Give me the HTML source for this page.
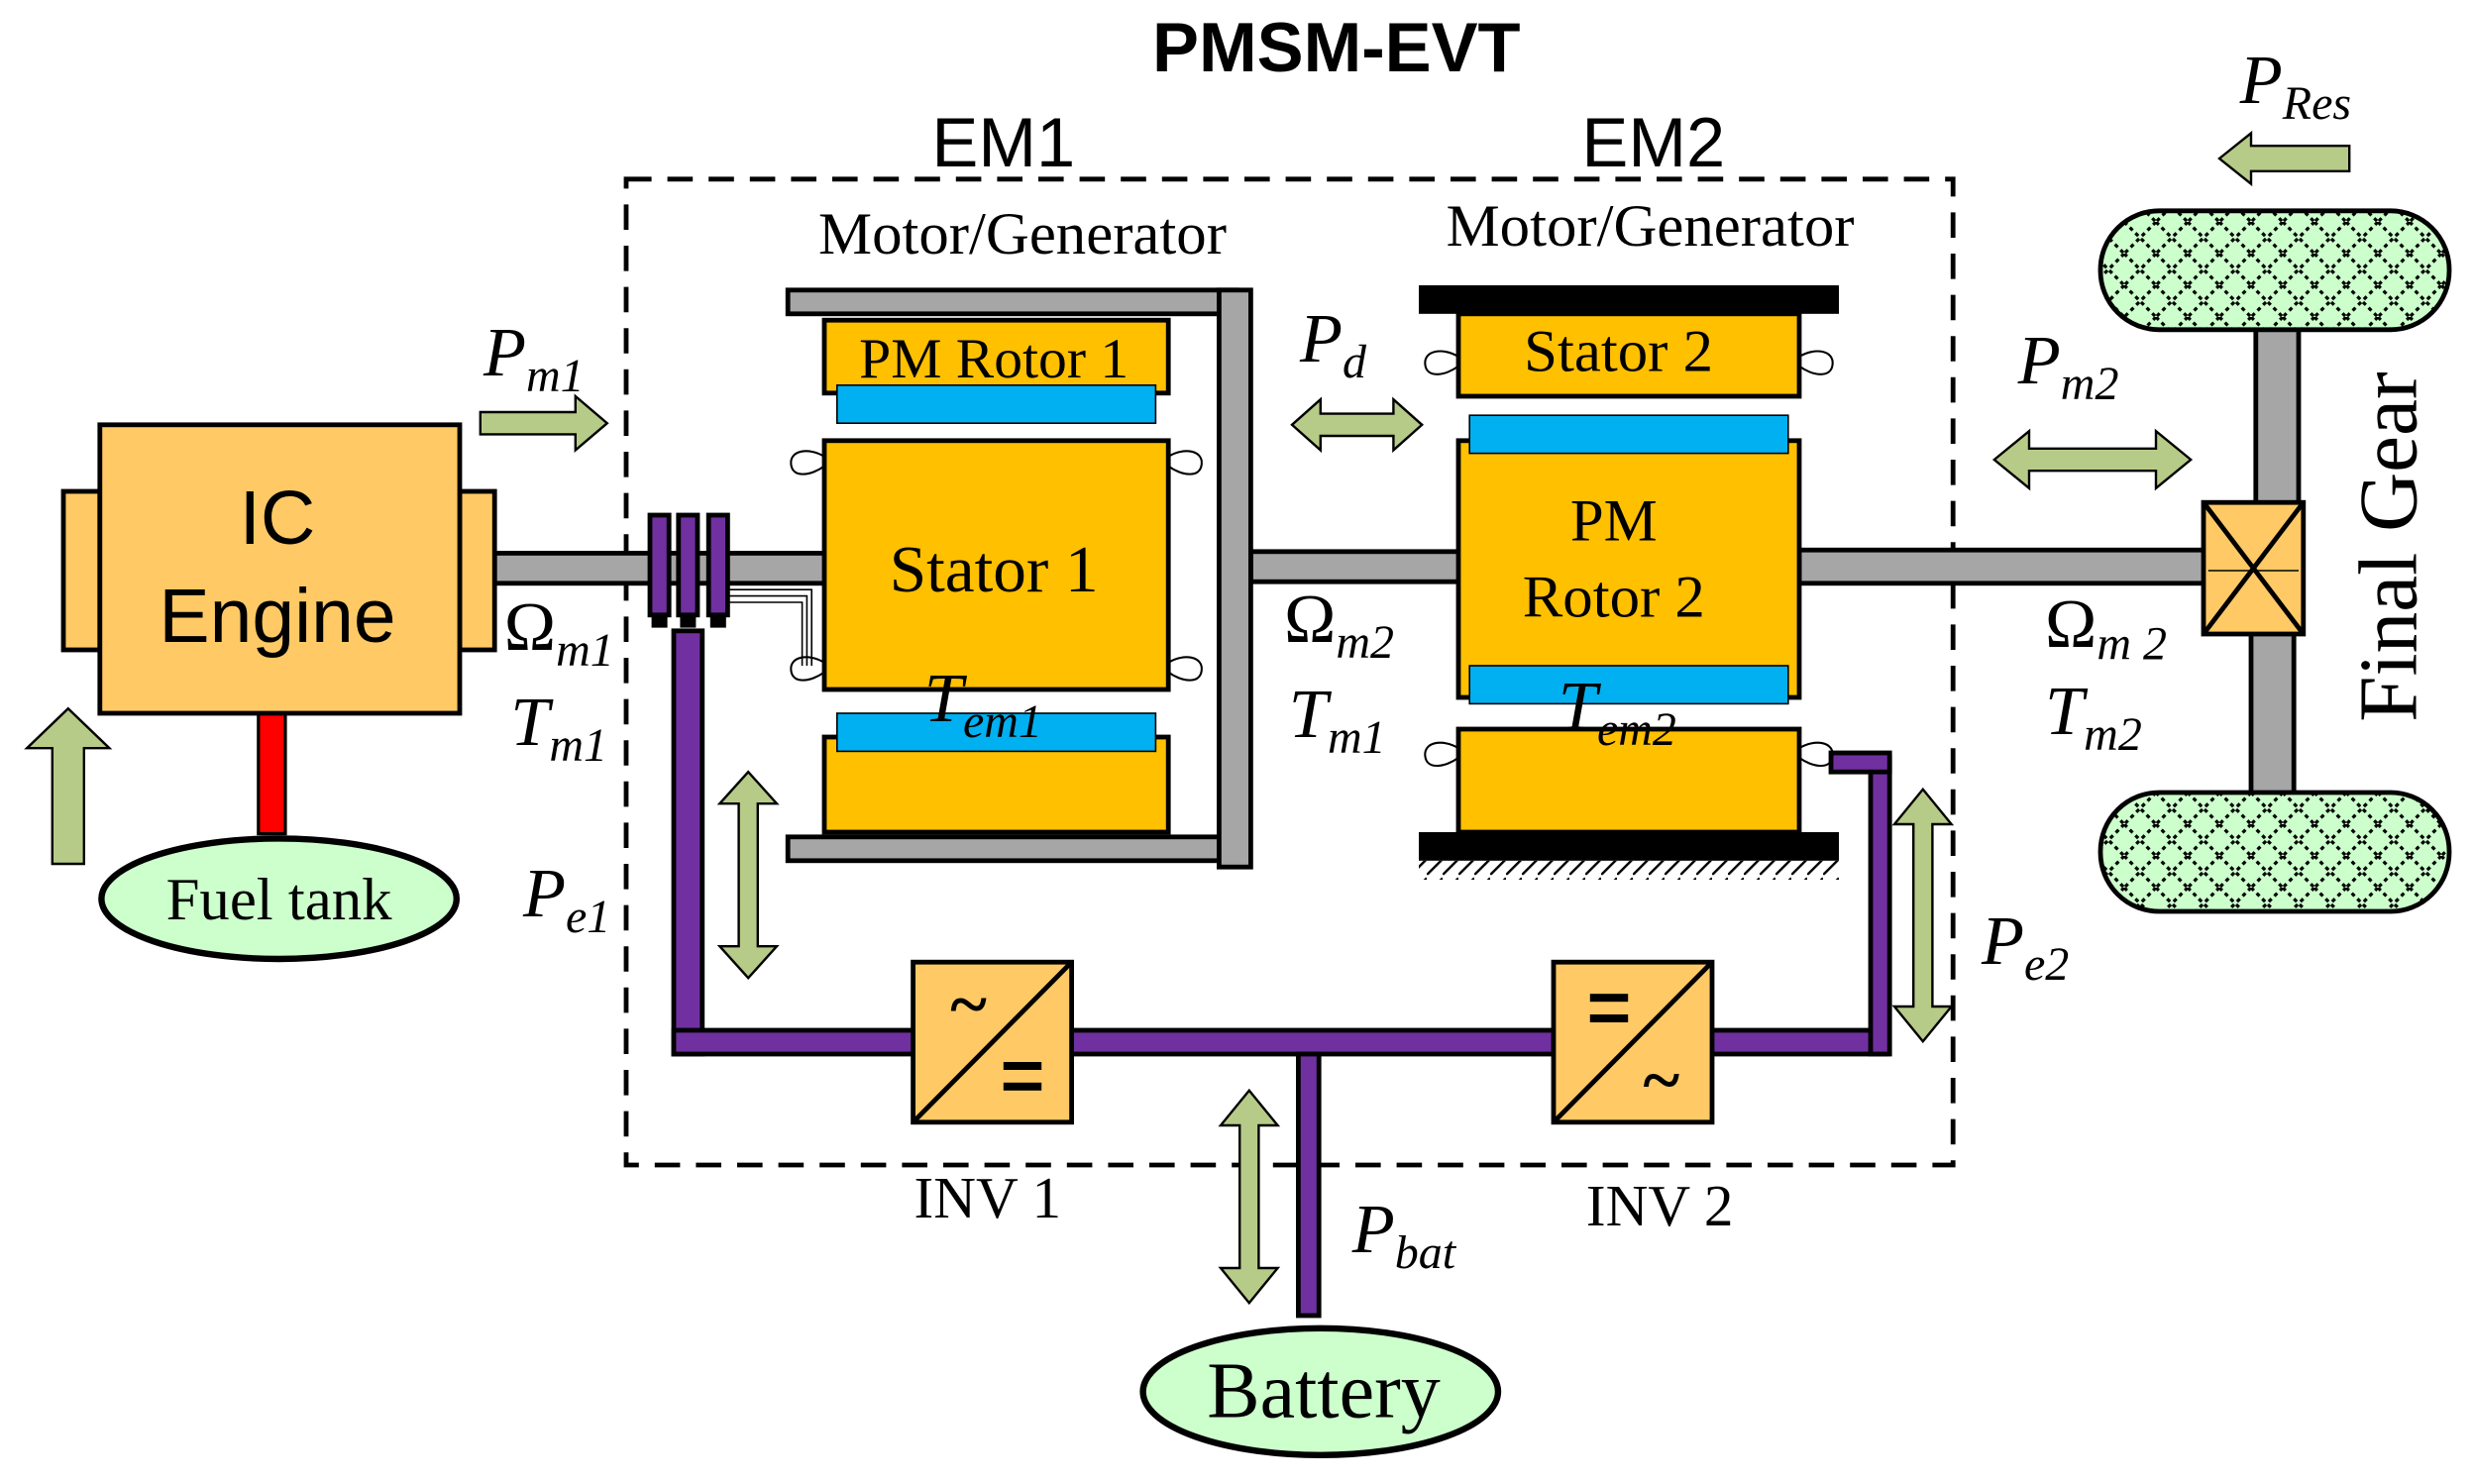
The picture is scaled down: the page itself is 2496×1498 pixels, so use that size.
<!DOCTYPE html>
<html><head><meta charset="utf-8"><style>html,body{margin:0;padding:0;background:#fff}svg{display:block}</style></head>
<body>
<svg xmlns="http://www.w3.org/2000/svg" width="2496" height="1498" viewBox="0 0 1560 936.25">
<defs>
<pattern id="hx" width="20" height="20" patternUnits="userSpaceOnUse">
<rect width="20" height="20" fill="#CCFFCC"/>
<path d="M0,0 L20,20 M20,0 L0,20" stroke="#000" stroke-width="2" stroke-dasharray="2.5,2.5"/>
</pattern>
<pattern id="hatch" width="10" height="12" patternUnits="userSpaceOnUse">
<path d="M0,12 L10,2" stroke="#000" stroke-width="1.5"/>
</pattern>
</defs>
<g font-family="Liberation Serif, serif">
<text x="843" y="45" font-family="Liberation Sans, sans-serif" font-weight="bold" font-size="44" text-anchor="middle">PMSM-EVT</text>
<text x="633" y="105" font-family="Liberation Sans, sans-serif" font-size="44" text-anchor="middle">EM1</text>
<text x="1043" y="105" font-family="Liberation Sans, sans-serif" font-size="44" text-anchor="middle">EM2</text>
<rect x="395" y="113" width="837" height="622" fill="none" stroke="#000" stroke-width="3" stroke-dasharray="16,10"/>
<text x="645" y="160" font-size="38" text-anchor="middle">Motor/Generator</text>
<text x="1041" y="155" font-size="38" text-anchor="middle">Motor/Generator</text>

<!-- shafts -->
<rect x="312" y="349" width="210" height="19" fill="#A6A6A6" stroke="#000" stroke-width="3"/>
<rect x="789" y="348" width="132" height="19" fill="#A6A6A6" stroke="#000" stroke-width="3"/>
<rect x="1135" y="347" width="256" height="21" fill="#A6A6A6" stroke="#000" stroke-width="3"/>

<!-- engine -->
<rect x="163" y="448" width="17" height="78" fill="#FF0000" stroke="#000" stroke-width="2"/>
<rect x="40" y="310" width="23" height="100" fill="#FFC966" stroke="#000" stroke-width="3"/>
<rect x="290" y="310" width="22" height="100" fill="#FFC966" stroke="#000" stroke-width="3"/>
<rect x="63" y="268" width="227" height="182" fill="#FFC966" stroke="#000" stroke-width="3"/>
<text x="175" y="343" font-family="Liberation Sans, sans-serif" font-size="48" text-anchor="middle">IC</text>
<text x="175" y="405" font-family="Liberation Sans, sans-serif" font-size="48" text-anchor="middle">Engine</text>
<ellipse cx="176" cy="567" rx="112" ry="38" fill="#CCFFCC" stroke="#000" stroke-width="4"/>
<text x="176" y="580" font-size="38" text-anchor="middle">Fuel tank</text>
<polygon points="43,447 69,472 53,472 53,545 33,545 33,472 17,472" fill="#B7CB88" stroke="#000" stroke-width="1.5"/>

<!-- purple wires -->
<g fill="#7030A0" stroke="#000" stroke-width="3">
<rect x="425" y="398" width="18" height="267"/>
<rect x="425" y="650" width="765" height="15"/>
<rect x="1180" y="478" width="12" height="187"/>
<rect x="1155" y="475" width="37" height="12"/>
<rect x="819" y="665" width="13" height="165"/>
<rect x="410" y="325" width="12" height="63"/>
<rect x="428" y="325" width="12" height="63"/>
<rect x="447" y="325" width="12" height="63"/>
</g>
<g fill="#000"><rect x="411" y="388" width="10" height="8"/><rect x="429" y="388" width="10" height="8"/><rect x="448" y="388" width="10" height="8"/></g>
<path d="M459,372 H512 V420 M459,376 H509 V420 M459,380 H506 V420" fill="none" stroke="#000" stroke-width="1"/>

<!-- EM1 -->
<g stroke="#000" stroke-width="3">
<rect x="497" y="183" width="283" height="15" fill="#A6A6A6"/>
<rect x="497" y="528" width="283" height="15" fill="#A6A6A6"/>
<rect x="769" y="183" width="20" height="364" fill="#A6A6A6"/>
<rect x="520" y="202" width="217" height="46" fill="#FFC000"/>
<rect x="520" y="278" width="217" height="157" fill="#FFC000"/>
<rect x="520" y="465" width="217" height="60" fill="#FFC000"/>
</g>
<rect x="528" y="243" width="201" height="24" fill="#00B0F0" stroke="#000" stroke-width="1"/>
<rect x="528" y="450" width="201" height="24" fill="#00B0F0" stroke="#000" stroke-width="1"/>
<g fill="none" stroke="#000" stroke-width="1.3">
<path d="M520,288 C510,282 498,284 499,293 C500,302 512,300 520,294"/>
<path d="M737,288 C747,282 759,284 758,293 C757,302 745,300 737,294"/>
<path d="M520,418 C510,412 498,414 499,423 C500,432 512,430 520,424"/>
<path d="M737,418 C747,412 759,414 758,423 C757,432 745,430 737,424"/>
<path d="M920,225 C910,219 898,221 899,230 C900,239 912,237 920,231"/>
<path d="M1135,225 C1145,219 1157,221 1156,230 C1155,239 1143,237 1135,231"/>
<path d="M920,472 C910,466 898,468 899,477 C900,486 912,484 920,478"/>
<path d="M1135,472 C1145,466 1157,468 1156,477 C1155,486 1143,484 1135,478"/>
</g>
<text x="627" y="238" font-size="36" text-anchor="middle">PM Rotor 1</text>
<text x="627" y="373" font-size="42" text-anchor="middle">Stator 1</text>
<text x="583" y="455" font-size="44" font-style="italic">T<tspan font-size="30" dy="10">em1</tspan></text>

<!-- EM2 -->
<rect x="895" y="180" width="265" height="18" fill="#000"/>
<rect x="895" y="525" width="265" height="18" fill="#000"/>
<rect x="895" y="543" width="265" height="12" fill="url(#hatch)"/>
<g stroke="#000" stroke-width="3" fill="#FFC000">
<rect x="920" y="198" width="215" height="52"/>
<rect x="920" y="278" width="215" height="162"/>
<rect x="920" y="460" width="215" height="65"/>
</g>
<rect x="927" y="262" width="201" height="24" fill="#00B0F0" stroke="#000" stroke-width="1"/>
<rect x="927" y="420" width="201" height="24" fill="#00B0F0" stroke="#000" stroke-width="1"/>
<text x="1021" y="234" font-size="38" text-anchor="middle">Stator 2</text>
<text x="1018" y="341" font-size="38" text-anchor="middle">PM</text>
<text x="1018" y="389" font-size="38" text-anchor="middle">Rotor 2</text>
<text x="983" y="460" font-size="44" font-style="italic">T<tspan font-size="30" dy="10">em2</tspan></text>

<!-- inverters -->
<g stroke="#000" stroke-width="3" fill="#FFC966">
<rect x="576" y="607" width="100" height="101"/>
<rect x="980" y="607" width="100" height="101"/>
</g>
<path d="M576,708 L676,607 M980,708 L1080,607" stroke="#000" stroke-width="3"/>
<text x="611" y="648" font-size="44" font-weight="bold" text-anchor="middle">~</text>
<rect x="633" y="670" width="24" height="5" fill="#000"/><rect x="633" y="683" width="24" height="5" fill="#000"/>
<rect x="1003" y="627" width="24" height="5" fill="#000"/><rect x="1003" y="640" width="24" height="5" fill="#000"/>
<text x="1048" y="696" font-size="44" font-weight="bold" text-anchor="middle">~</text>
<text x="623" y="768" font-size="37" text-anchor="middle">INV 1</text>
<text x="1047" y="773" font-size="37" text-anchor="middle">INV 2</text>
<ellipse cx="833" cy="878" rx="112" ry="40" fill="#CCFFCC" stroke="#000" stroke-width="4"/>
<text x="835" y="894" font-size="50" text-anchor="middle">Battery</text>

<!-- final gear & wheels -->
<rect x="1423" y="205" width="27" height="115" fill="#A6A6A6" stroke="#000" stroke-width="3"/>
<rect x="1420" y="398" width="27" height="104" fill="#A6A6A6" stroke="#000" stroke-width="3"/>
<rect x="1325" y="133" width="220" height="75" rx="37" fill="url(#hx)" stroke="#000" stroke-width="3"/>
<rect x="1325" y="500" width="220" height="75" rx="37" fill="url(#hx)" stroke="#000" stroke-width="3"/>
<rect x="1390" y="317" width="63" height="83" fill="#FFC966" stroke="#000" stroke-width="3"/>
<path d="M1390,317 L1453,400 M1453,317 L1390,400" stroke="#000" stroke-width="3"/>
<path d="M1393,360 L1450,360" stroke="#000" stroke-width="1"/>
<text transform="translate(1524,345) rotate(-90)" font-size="52" text-anchor="middle">Final Gear</text>

<!-- power arrows -->
<g fill="#B7CB88" stroke="#000" stroke-width="1.5">
<polygon points="303,260 363,260 363,250 383,267 363,284 363,274 303,274"/>
<polygon points="815,268 833,252 833,261 879,261 879,252 897,268 879,284 879,275 833,275 833,284"/>
<polygon points="1258,290 1280,272 1280,283 1360,283 1360,272 1382,290 1360,308 1360,297 1280,297 1280,308"/>
<polygon points="1400,100 1420,84 1420,92 1482,92 1482,108 1420,108 1420,116"/>
<polygon points="472,487 490,507 478,507 478,597 490,597 472,617 454,597 466,597 466,507 454,507"/>
<polygon points="1213,498 1231,520 1219,520 1219,635 1231,635 1213,657 1195,635 1207,635 1207,520 1195,520"/>
<polygon points="788,688 806,710 794,710 794,800 806,800 788,822 770,800 782,800 782,710 770,710"/>
</g>

<!-- labels -->
<g font-size="44" font-style="italic">
<text x="305" y="237">P<tspan font-size="30" dy="10">m1</tspan></text>
<text x="820" y="228">P<tspan font-size="30" dy="10">d</tspan></text>
<text x="1273" y="242">P<tspan font-size="30" dy="10">m2</tspan></text>
<text x="1413" y="65">P<tspan font-size="30" dy="10">Res</tspan></text>
<text x="318" y="410" font-style="normal">Ω<tspan font-size="30" font-style="italic" dy="10">m1</tspan></text>
<text x="322" y="470">T<tspan font-size="30" dy="10">m1</tspan></text>
<text x="810" y="405" font-style="normal">Ω<tspan font-size="30" font-style="italic" dy="10">m2</tspan></text>
<text x="813" y="465">T<tspan font-size="30" dy="10">m1</tspan></text>
<text x="1290" y="408" font-style="normal">Ω<tspan font-size="30" font-style="italic" dy="8">m 2</tspan></text>
<text x="1290" y="463">T<tspan font-size="30" dy="10">m2</tspan></text>
<text x="330" y="578">P<tspan font-size="30" dy="10">e1</tspan></text>
<text x="1250" y="608">P<tspan font-size="30" dy="10">e2</tspan></text>
<text x="853" y="790">P<tspan font-size="30" dy="10">bat</tspan></text>
</g>
</g>
</svg>
</body></html>
